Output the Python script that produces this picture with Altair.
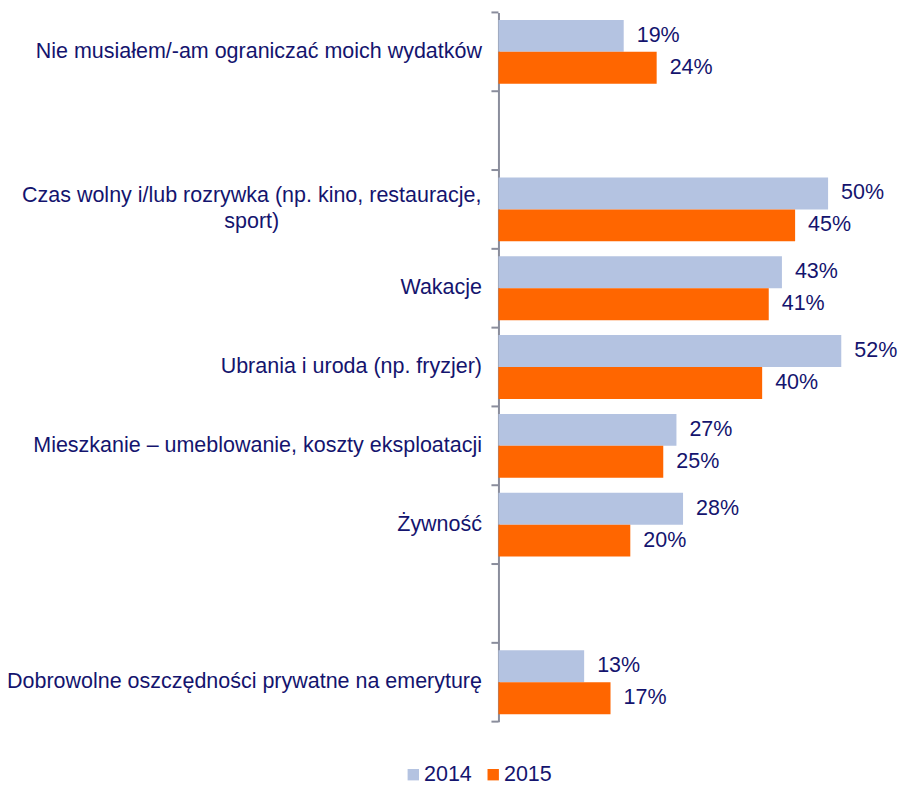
import altair as alt
import pandas as pd

categories = [
    "Nie musiałem/-am ograniczać moich wydatków",
    "gap1",
    "Czas wolny i/lub rozrywka (np. kino, restauracje,|sport)",
    "Wakacje",
    "Ubrania i uroda (np. fryzjer)",
    "Mieszkanie – umeblowanie, koszty eksploatacji",
    "Żywność",
    "gap2",
    "Dobrowolne oszczędności prywatne na emeryturę",
]
bar_categories = [
    "Nie musiałem/-am ograniczać moich wydatków",
    "Czas wolny i/lub rozrywka (np. kino, restauracje,|sport)",
    "Wakacje",
    "Ubrania i uroda (np. fryzjer)",
    "Mieszkanie – umeblowanie, koszty eksploatacji",
    "Żywność",
    "Dobrowolne oszczędności prywatne na emeryturę",
]
values_2014 = [19, 50, 43, 52, 27, 28, 13]
values_2015 = [24, 45, 41, 40, 25, 20, 17]
years = ["2014", "2015"]
colors = ["#b4c3e1", "#ff6600"]

rows = []
for c, a, b in zip(bar_categories, values_2014, values_2015):
    rows.append({"cat": c, "year": "2014", "value": a, "label": f"{a}%"})
    rows.append({"cat": c, "year": "2015", "value": b, "label": f"{b}%"})
df = pd.DataFrame(rows)
cats_df = pd.DataFrame({"cat": categories})
last_df = pd.DataFrame({"cat": categories[-1:]})
multi_df = pd.DataFrame({"cat": [c for c in categories if "|" in c]})

FONT = "Liberation Sans"
TXT = "#14146e"
AXC = "#8a8d9c"
FS = 21.5

label_expr = (
    "indexof(datum.value, 'gap') == 0 || indexof(datum.value, '|') > 0 ? '' : datum.value"
)

y_scale = alt.Scale(domain=categories, paddingInner=0, paddingOuter=0)

y_enc = alt.Y(
    "cat:N",
    sort=categories,
    scale=y_scale,
    axis=alt.Axis(
        title=None,
        labelExpr=label_expr,
        ticks=False,
        grid=False,
        domainColor=AXC,
        domainWidth=2,
        labelPadding=17,
        labelFont=FONT,
        labelFontSize=FS,
        labelColor=TXT,
        labelLimit=0,
    ),
)
yoff = alt.YOffset(
    "year:N",
    scale=alt.Scale(domain=years, paddingInner=0, paddingOuter=0.234),
)
x_enc = alt.X("value:Q", scale=alt.Scale(domain=[0, 60]), axis=None)

bars = alt.Chart(df).mark_bar().encode(
    y=y_enc,
    yOffset=yoff,
    x=x_enc,
    color=alt.Color(
        "year:N",
        scale=alt.Scale(domain=years, range=colors),
        legend=alt.Legend(
            title=None,
            orient="none",
            legendX=-96,
            legendY=752,
            direction="horizontal",
            symbolType="square",
            symbolSize=130,
            labelFont=FONT,
            labelFontSize=FS,
            labelColor=TXT,
            columnPadding=10,
            labelOffset=0,
        ),
    ),
)

texts = alt.Chart(df).mark_text(
    align="left", baseline="middle", dx=13, font=FONT, fontSize=FS, color=TXT
).encode(y=alt.Y("cat:N", sort=categories), yOffset=yoff, x=x_enc, text="label:N")

# two-line category label, lines centred on each other
multi_label = alt.Chart(multi_df).mark_text(
    align="center", baseline="middle", lineBreak="|", lineHeight=26, dy=-13,
    font=FONT, fontSize=FS, color=TXT,
).encode(
    y=alt.Y("cat:N", sort=categories),
    x=alt.value(-247),
    text="cat:N",
)

# tick marks at the band boundaries
ticks_top = alt.Chart(cats_df).mark_rule(color=AXC, strokeWidth=2).encode(
    y=alt.Y("cat:N", sort=categories, bandPosition=0),
    x=alt.value(-7),
    x2=alt.value(0),
)
ticks_bottom = alt.Chart(last_df).mark_rule(color=AXC, strokeWidth=2).encode(
    y=alt.Y("cat:N", sort=categories, bandPosition=1),
    x=alt.value(-7),
    x2=alt.value(0),
)

chart = (
    alt.layer(bars, texts, multi_label, ticks_top, ticks_bottom)
    .properties(
        width=396,
        height=710,
        background="white",
        autosize=alt.AutoSizeParams(type="none"),
        padding={"left": 491, "top": 4, "right": 4, "bottom": 64},
    )
    .configure_view(strokeWidth=0, stroke="transparent")
    .configure_axis(grid=False)
)

chart.save("out.html", embed_options={"renderer": "svg", "actions": False})
